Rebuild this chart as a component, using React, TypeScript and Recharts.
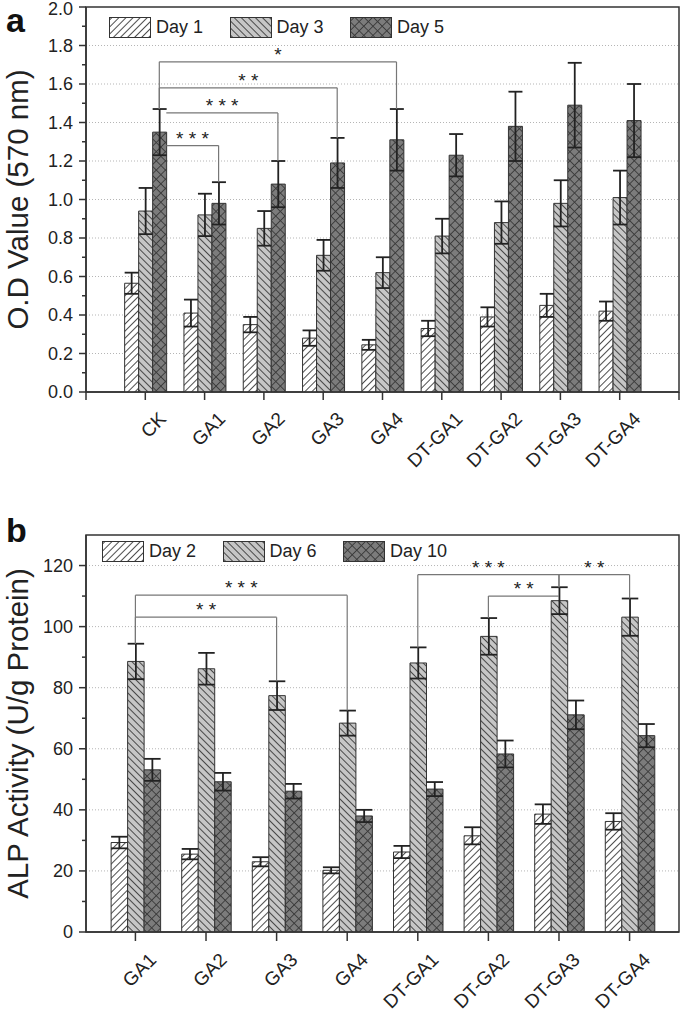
import React from "react";
import {
  BarChart,
  Bar,
  XAxis,
  YAxis,
  ErrorBar,
  ReferenceLine,
  ReferenceArea,
  CartesianGrid,
  Legend,
} from "recharts";

const FONT = '"Liberation Sans", Arial, Helvetica, sans-serif';
const AXIS = "#333333";
const INK = "#222222";
const HATCH = "#3a3a3a";
const BRACKET = "#777777";
const PLOT_W = 593;

// ---- panel a: O.D value (570 nm)
const catsA = ["CK", "GA1", "GA2", "GA3", "GA4", "DT-GA1", "DT-GA2", "DT-GA3", "DT-GA4"];
const xA = [1, 2, 3, 4, 5, 6, 7, 8, 9];
const day1 = [0.565, 0.41, 0.35, 0.28, 0.245, 0.33, 0.39, 0.45, 0.42];
const day1Err = [0.055, 0.07, 0.04, 0.04, 0.026, 0.04, 0.05, 0.06, 0.05];
const day3 = [0.94, 0.92, 0.85, 0.71, 0.62, 0.81, 0.88, 0.98, 1.01];
const day3Err = [0.12, 0.11, 0.09, 0.08, 0.08, 0.09, 0.11, 0.12, 0.14];
const day5 = [1.35, 0.98, 1.08, 1.19, 1.31, 1.23, 1.38, 1.49, 1.41];
const day5Err = [0.12, 0.11, 0.12, 0.13, 0.16, 0.11, 0.18, 0.22, 0.19];
const yMajorA = [0, 0.2, 0.4, 0.6, 0.8, 1.0, 1.2, 1.4, 1.6, 1.8, 2.0];
const yMinorA = [0.1, 0.3, 0.5, 0.7, 0.9, 1.1, 1.3, 1.5, 1.7, 1.9];
const gridA = [0.2, 0.4, 0.6, 0.8, 1.0, 1.2, 1.4, 1.6, 1.8];
const xTicksA = [0, 1, 2, 3, 4, 5, 6, 7, 8, 9, 10];
const sigA = [
  { from: 0, to: 1, level: 1.28, text: "* * *" },
  { from: 0, to: 2, level: 1.45, text: "* * *" },
  { from: 0, to: 3, level: 1.58, text: "* *" },
  { from: 0, to: 4, level: 1.715, text: "*" },
];

// ---- panel b: ALP activity
const catsB = ["GA1", "GA2", "GA3", "GA4", "DT-GA1", "DT-GA2", "DT-GA3", "DT-GA4"];
const xB = [1, 2, 3, 4, 5, 6, 7, 8];
const day2 = [29.3, 25.5, 23.0, 20.2, 26.2, 31.5, 38.6, 36.2];
const day2Err = [1.9, 1.7, 1.5, 1.0, 2.0, 2.8, 3.2, 2.7];
const day6 = [88.6, 86.2, 77.4, 68.4, 88.1, 96.8, 108.5, 103.1];
const day6Err = [5.8, 5.2, 4.7, 4.1, 5.1, 6.0, 4.4, 6.1];
const day10 = [53.1, 49.2, 46.1, 38.0, 46.8, 58.3, 71.1, 64.3];
const day10Err = [3.6, 2.9, 2.4, 2.0, 2.3, 4.4, 4.7, 3.8];
const yMajorB = [0, 20, 40, 60, 80, 100, 120];
const yMinorB = [10, 30, 50, 70, 90, 110];
const gridB = [20, 40, 60, 80, 100, 120];
const xTicksB = [1, 2, 3, 4, 5, 6, 7, 8];
const sigB = [
  { from: 0, to: 2, level: 103.1, text: "* *" },
  { from: 0, to: 3, level: 110.3, text: "* * *" },
  { from: 5, to: 6, level: 110, text: "* *" },
  { from: 4, to: 6, level: 117, text: "* * *" },
  { from: 6, to: 7, level: 117, text: "* *" },
];

const PATTERNS = [
  { id: "hatchFwd", fill: "#ffffff", angle: 45, size: 5, cross: false },
  { id: "hatchBack", fill: "#c6c6c6", angle: -45, size: 5, cross: false },
  { id: "hatchCross", fill: "#7c7c7c", angle: 45, size: 6.5, cross: true },
];

const dataA = xA.map((x, i) => ({
  x,
  name: catsA[i],
  d1: day1[i],
  d1e: day1Err[i],
  d3: day3[i],
  d3e: day3Err[i],
  d5: day5[i],
  d5e: day5Err[i],
}));

const dataB = xB.map((x, i) => ({
  x,
  name: catsB[i],
  d2: day2[i],
  d2e: day2Err[i],
  d6: day6[i],
  d6e: day6Err[i],
  d10: day10[i],
  d10e: day10Err[i],
}));

const seriesA = [
  { key: "d1", err: "d1e", name: "Day 1", pattern: "hatchFwd" },
  { key: "d3", err: "d3e", name: "Day 3", pattern: "hatchBack" },
  { key: "d5", err: "d5e", name: "Day 5", pattern: "hatchCross" },
];
const seriesB = [
  { key: "d2", err: "d2e", name: "Day 2", pattern: "hatchFwd" },
  { key: "d6", err: "d6e", name: "Day 6", pattern: "hatchBack" },
  { key: "d10", err: "d10e", name: "Day 10", pattern: "hatchCross" },
];

function PatternDefs() {
  return (
    <svg width={0} height={0} style={{ position: "absolute" }}>
      <defs>
        {PATTERNS.map((p) => (
          <pattern
            key={p.id}
            id={p.id}
            patternUnits="userSpaceOnUse"
            width={p.size}
            height={p.size}
            patternTransform={`rotate(${p.angle})`}
          >
            <rect width={p.size} height={p.size} fill={p.fill} />
            <line x1={p.size / 2} y1={0} x2={p.size / 2} y2={p.size} stroke={HATCH} strokeWidth={0.9} />
            {p.cross && (
              <line x1={0} y1={p.size / 2} x2={p.size} y2={p.size / 2} stroke={HATCH} strokeWidth={0.9} />
            )}
          </pattern>
        ))}
      </defs>
    </svg>
  );
}

function LegendRow({ items }: { items: { name: string; pattern: string }[] }) {
  return (
    <div style={{ display: "flex", fontFamily: FONT, fontSize: 18, color: INK }}>
      {items.map((it) => (
        <div key={it.name} style={{ width: 120.5, display: "flex", alignItems: "center" }}>
          <svg width={42} height={21} style={{ display: "block" }}>
            <rect x={0.5} y={0.5} width={41} height={20} fill={`url(#${it.pattern})`} stroke={AXIS} />
          </svg>
          <span style={{ marginLeft: 5 }}>{it.name}</span>
        </div>
      ))}
    </div>
  );
}

function ValueTick(props: any) {
  const { x, y, payload, major, fmt } = props;
  const isMajor = major.includes(payload.value);
  // keep the top label inside the picture
  const ty = Math.max(y, 9);
  return (
    <g>
      <line x1={x} x2={x - (isMajor ? 7 : 4)} y1={y} y2={y} stroke={AXIS} strokeWidth={1.5} />
      {isMajor && (
        <text x={x - 13} y={ty} dy="0.36em" textAnchor="end" fontFamily={FONT} fontSize={18} fill={INK}>
          {fmt(payload.value)}
        </text>
      )}
    </g>
  );
}

function CatTick(props: any) {
  const { x, y, payload, names } = props;
  const label = names[payload.value - 1];
  if (!label) return null;
  return (
    <g transform={`translate(${x + 22},${y + 18})`}>
      <text textAnchor="end" transform="rotate(-45)" fontFamily={FONT} fontSize={19} fill={INK}>
        {label}
      </text>
    </g>
  );
}

function Panel(props: any) {
  const {
    data, series, names, xs, yDomain, yMajor, yMinor, grid, yFmt, yLabel, xDomain, xTicks,
    barSize, sig, sigVals, sigErrs, sigIndex, height, marginTop, marginBottom, xHeight, tickLen,
    legendTop, legendLeft,
  } = props;
  const unit = PLOT_W / (xDomain[1] - xDomain[0]);
  const bw = barSize / unit;
  const off = (sigIndex - (series.length - 1) / 2) * bw;

  const brackets = sig.flatMap((s: any, k: number) => {
    const capL = sigVals[s.from] + sigErrs[s.from];
    const capR = sigVals[s.to] + sigErrs[s.to];
    const cL = xs[s.from] + off;
    const cR = xs[s.to] + off;
    const startX = s.level < capL ? cL + bw / 2 : cL;
    const out = [
      <ReferenceLine
        key={`h${k}`}
        segment={[{ x: startX, y: s.level }, { x: cR, y: s.level }]}
        stroke={BRACKET}
        strokeWidth={1.2}
        label={{ value: s.text, position: "top", offset: 1, fontSize: 19, fill: INK, fontFamily: FONT }}
      />,
    ];
    if (s.level > capL)
      out.push(
        <ReferenceLine key={`l${k}`} segment={[{ x: cL, y: capL }, { x: cL, y: s.level }]} stroke={BRACKET} strokeWidth={1.2} />
      );
    if (s.level > capR)
      out.push(
        <ReferenceLine key={`r${k}`} segment={[{ x: cR, y: capR }, { x: cR, y: s.level }]} stroke={BRACKET} strokeWidth={1.2} />
      );
    return out;
  });

  return (
    <BarChart
      width={685}
      height={height}
      data={data}
      barGap={0}
      barSize={barSize}
      margin={{ top: marginTop, right: 6, left: 0, bottom: marginBottom }}
    >
      <CartesianGrid horizontal vertical={false} horizontalValues={grid} stroke="#b5b5b5" strokeDasharray="1 2" />
      <ReferenceArea
        x1={xDomain[0]}
        x2={xDomain[1]}
        y1={yDomain[0]}
        y2={yDomain[1]}
        fill="none"
        fillOpacity={0}
        stroke={AXIS}
        strokeWidth={1.5}
      />
      <XAxis
        type="number"
        dataKey="x"
        domain={xDomain}
        ticks={xTicks}
        interval={0}
        allowDataOverflow
        height={xHeight}
        tickSize={tickLen}
        tickMargin={2}
        tick={<CatTick names={names} />}
        axisLine={{ stroke: AXIS, strokeWidth: 1.5 }}
        tickLine={{ stroke: AXIS, strokeWidth: 1.5 }}
      />
      <YAxis
        type="number"
        domain={yDomain}
        ticks={[...yMajor, ...yMinor]}
        interval={0}
        allowDataOverflow
        width={86}
        tickSize={0}
        tickMargin={0}
        tickLine={false}
        axisLine={{ stroke: AXIS, strokeWidth: 1.5 }}
        tick={<ValueTick major={yMajor} fmt={yFmt} />}
        label={{
          value: yLabel,
          angle: -90,
          position: "center",
          dx: -25,
          fontSize: 29.5,
          fill: INK,
          fontFamily: FONT,
        }}
      />
      <Legend
        layout="horizontal"
        verticalAlign="middle"
        align="center"
        wrapperStyle={{ top: legendTop, left: legendLeft, width: "auto" }}
        content={() => <LegendRow items={series} />}
      />
      {series.map((s: any) => (
        <Bar
          key={s.key}
          dataKey={s.key}
          name={s.name}
          fill={`url(#${s.pattern})`}
          stroke={AXIS}
          strokeWidth={1}
          isAnimationActive={false}
        >
          <ErrorBar dataKey={s.err} width={barSize / 2} stroke={INK} strokeWidth={1.8} direction="y" />
        </Bar>
      ))}
      {brackets}
    </BarChart>
  );
}

export default function App() {
  return (
    <div style={{ position: "absolute", left: 0, top: 0, width: 685, height: 1015, background: "#fff", fontFamily: FONT }}>
      <PatternDefs />
      <div style={{ position: "absolute", left: 0, top: 0 }}>
        <Panel
          data={dataA}
          series={seriesA}
          names={catsA}
          xs={xA}
          yDomain={[0, 2]}
          yMajor={yMajorA}
          yMinor={yMinorA}
          grid={gridA}
          yFmt={(v: number) => v.toFixed(1)}
          yLabel="O.D Value (570 nm)"
          xDomain={[0, 10]}
          xTicks={xTicksA}
          barSize={14}
          sig={sigA}
          sigVals={day5}
          sigErrs={day5Err}
          sigIndex={2}
          height={490}
          marginTop={7}
          marginBottom={8}
          xHeight={90}
          tickLen={8}
          legendTop={17}
          legendLeft={109}
        />
      </div>
      <div style={{ position: "absolute", left: 0, top: 505 }}>
        <Panel
          data={dataB}
          series={seriesB}
          names={catsB}
          xs={xB}
          yDomain={[0, 130]}
          yMajor={yMajorB}
          yMinor={yMinorB}
          grid={gridB}
          yFmt={(v: number) => String(v)}
          yLabel="ALP Activity (U/g Protein)"
          xDomain={[0.3, 8.7]}
          xTicks={xTicksB}
          barSize={16.5}
          sig={sigB}
          sigVals={day6}
          sigErrs={day6Err}
          sigIndex={1}
          height={510}
          marginTop={30}
          marginBottom={8}
          xHeight={75}
          tickLen={9}
          legendTop={36}
          legendLeft={102}
        />
      </div>
      <div style={{ position: "absolute", left: 6, top: 3, fontSize: 34, lineHeight: "34px", fontWeight: 700, color: "#111" }}>
        a
      </div>
      <div style={{ position: "absolute", left: 6, top: 513, fontSize: 34, lineHeight: "34px", fontWeight: 700, color: "#111" }}>
        b
      </div>
    </div>
  );
}
